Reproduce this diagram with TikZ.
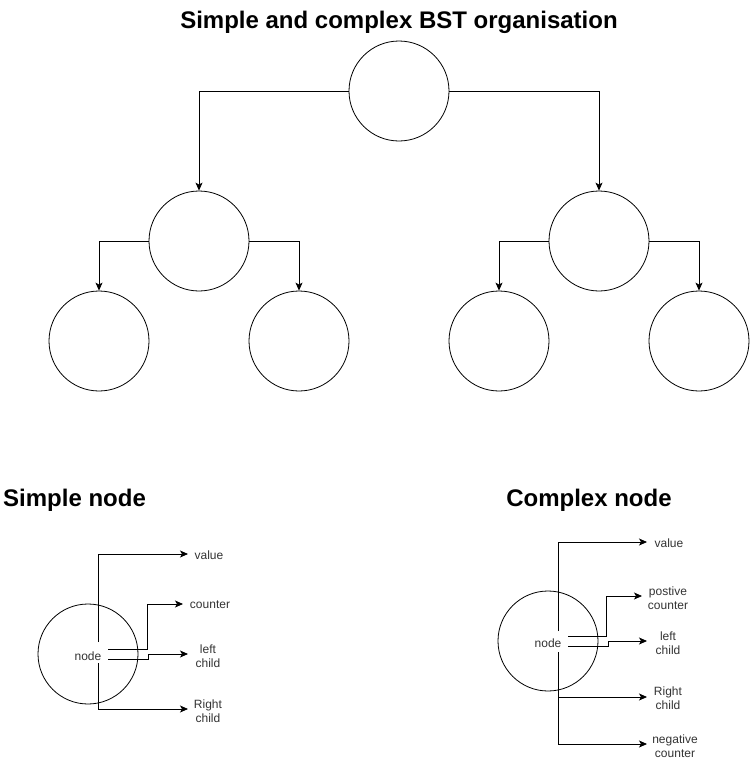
\documentclass[tikz,border=0pt]{standalone}
\usepackage{fontspec}
\setmainfont{Liberation Sans}
\usetikzlibrary{arrows.meta}
\definecolor{lbl}{HTML}{333333}
\begin{document}
\begin{tikzpicture}[x=1pt,y=-1pt,
  circ/.style={draw=black,circle,minimum size=100pt,inner sep=0pt,line width=0.8pt},
  arr/.style={draw=black,line width=0.8pt,-{Stealth[length=8pt,width=7pt,inset=2pt]}},
  lbl/.style={text=lbl,font=\fontsize{12}{14}\selectfont,align=center,inner sep=0pt},
  ttl/.style={font=\fontsize{24}{28}\selectfont\bfseries,inner sep=0pt}]
\useasboundingbox (0,0) rectangle (750,766);
% title
\node[ttl] (title) at (399,22) {Simple and complex BST organisation};
% tree
\node[circ] (root) at (399,91) {};
\node[circ] (l) at (199,241) {};
\node[circ] (r) at (599,241) {};
\node[circ] (ll) at (99,341) {};
\node[circ] (lr) at (299,341) {};
\node[circ] (rl) at (499,341) {};
\node[circ] (rr) at (699,341) {};
\draw[arr] (root.west) -| (l.north);
\draw[arr] (root.east) -| (r.north);
\draw[arr] (l.west) -| (ll.north);
\draw[arr] (l.east) -| (lr.north);
\draw[arr] (r.west) -| (rl.north);
\draw[arr] (r.east) -| (rr.north);
% simple node
\node[ttl,anchor=west] (stitle) at (3,500) {Simple node};
\node[circ] (scirc) at (88,654) {};
\node[lbl] (snode) at (88,656) {node};
\coordinate (sv0) at (98,642);
\coordinate (sv1) at (98,663);
\coordinate (sc0) at (108,649);
\coordinate (sl0) at (108,659);
\coordinate (svalue) at (188,554);
\coordinate (scounter) at (183,604);
\coordinate (sleft) at (188,654);
\coordinate (sright) at (188,709);
\node[lbl] (tvalue) at (209,555) {value};
\node[lbl] (tcounter) at (210,605) {counter};
\node[lbl] (tleft) at (208,656) {left\\child};
\node[lbl] (tright) at (208,711) {Right\\child};
\draw[arr] (sv0) |- (svalue);
\draw[arr] (sv1) |- (sright);
\draw[arr] (sc0) -- ++(39,0) |- (scounter);
\draw[arr] (sl0) -- ++(40,0) |- (sleft);
% complex node
\node[ttl] (ctitle) at (589,500) {Complex node};
\node[circ] (ccirc) at (548,641) {};
\node[lbl] (cnode) at (548,643) {node};
\coordinate (cv0) at (558,631);
\coordinate (cv1) at (558,652);
\coordinate (crj) at (558,697);
\coordinate (cp0) at (568,636);
\coordinate (cl0) at (568,646);
\coordinate (cvalue) at (647,542);
\coordinate (cpos) at (642,596);
\coordinate (cleft) at (647,641);
\coordinate (cright) at (647,697);
\coordinate (cneg) at (647,744);
\node[lbl] (ctvalue) at (669,543) {value};
\node[lbl] (ctpos) at (668,598) {postive\\counter};
\node[lbl] (ctleft) at (668,643) {left\\child};
\node[lbl] (ctright) at (668,698) {Right\\child};
\node[lbl] (ctneg) at (675,746) {negative\\counter};
\draw[arr] (cv0) |- (cvalue);
\draw[arr] (cv1) |- (cneg);
\draw[arr] (crj) -- (cright);
\draw[arr] (cp0) -- ++(38,0) |- (cpos);
\draw[arr] (cl0) -- ++(40,0) |- (cleft);
\end{tikzpicture}
\end{document}
